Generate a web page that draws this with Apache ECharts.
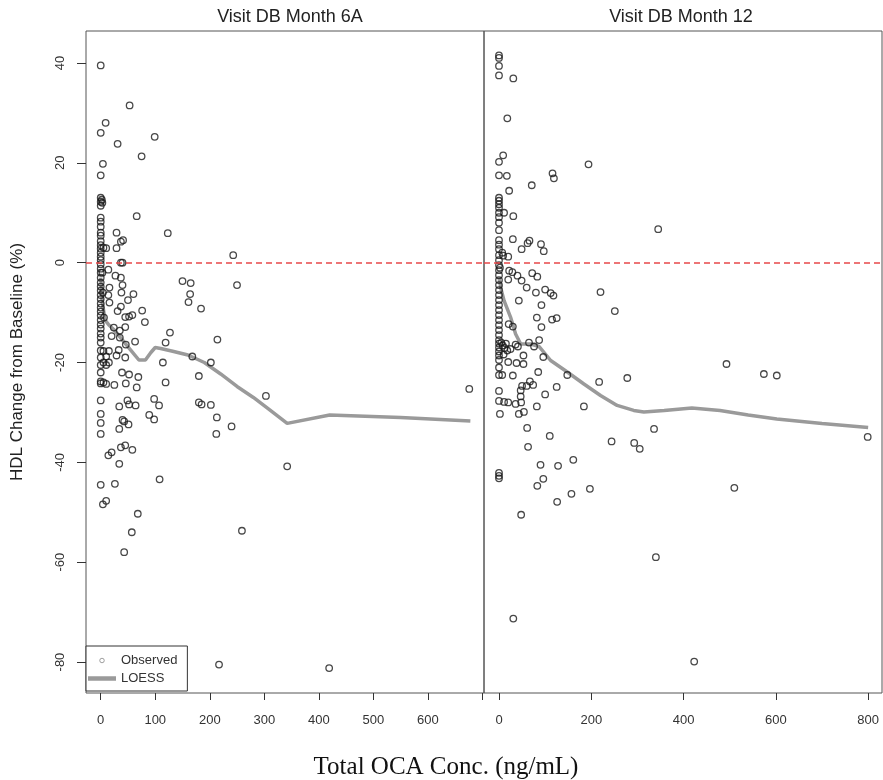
<!DOCTYPE html>
<html>
<head>
<meta charset="utf-8">
<script src="https://cdn.jsdelivr.net/npm/echarts@6/dist/echarts.min.js"></script>
<style>
  html, body { margin: 0; padding: 0; background: #fff; }
  #chart { width: 883px; height: 780px; }
</style>
</head>
<body>
<div id="chart"></div>
<script>
// panel titles
const panelTitles = ['Visit DB Month 6A', 'Visit DB Month 12']

// tick values
const yTicks = [-80, -60, -40, -20, 0, 20, 40]
const m6TickX = [0, 100, 200, 300, 400, 500, 600, 700]
const m6LabelX = [0, 100, 200, 300, 400, 500, 600]
const m12TickX = [0, 200, 400, 600, 800]

// Month 6A observed [conc, change %]
const month6Points = [
  [0, 39.5], [0, 26], [4, 19.8], [0, 17.5], [0, 13], [2, 12.6], [0, 12.2], [3, 12], [0, 11.4],
  [0, 9], [0, 8.2], [0, 7.2], [0, 6], [0, 5.4], [0, 4.3], [0, 3.5], [0, 2.8], [0, 2], [0, 1.2],
  [0, 0.5], [0, -0.3], [0, -1.2], [0, -2], [0, -3], [0, -4], [0, -4.8], [0, -5.6], [0, -6.5],
  [0, -7.3], [0, -8.2], [0, -9], [0, -9.8], [0, -10.6], [0, -11.5], [0, -12.4], [0, -13.2],
  [0, -14.2], [0, -15], [0, -16], [0, -17.6], [0, -19], [0, -20.5], [0, -22], [0, -23.8],
  [0, -24.2], [0, -27.6], [0, -30.3], [0, -32.1], [0, -34.3], [0, -44.5], [4, -48.4],
  [5, 3], [3, -2], [4, -6], [6, -11], [5, -17.7], [5, -20], [5, -24], [10, -47.7],
  [9, 28], [53, 31.5], [31, 23.8], [99, 25.2], [75, 21.3], [66, 9.3], [29, 6], [123, 5.9],
  [41, 4.5], [37, 4.2], [29, 2.9], [10, 2.9], [37, 0], [40, 0], [14, -1.4], [27, -2.6],
  [37, -3], [40, -4.5], [38, -6], [16, -5], [14, -6.5], [16, -8], [60, -6.3], [50, -7.5],
  [37, -8.8], [31, -9.7], [76, -9.6], [81, -11.9], [45, -10.9], [52, -10.8], [58, -10.5],
  [45, -12.9], [35, -13.6], [24, -13], [127, -14], [119, -16], [63, -15.8], [46, -16.4],
  [35, -15], [20, -14.7], [15, -17.7], [33, -17.5], [45, -19], [29, -18.6], [10, -18.8],
  [114, -20], [10, -20.5], [15, -20], [39, -22], [52, -22.4], [69, -22.9], [119, -24],
  [10, -24.3], [25, -24.5], [46, -24.2], [66, -25], [34, -28.8], [49, -27.6], [64, -28.6],
  [52, -28.4], [98, -27.3], [107, -28.6], [89, -30.5], [40, -31.5], [34, -33.3], [43, -31.8],
  [51, -32.4], [98, -31.4], [14, -38.6], [20, -38], [37, -37], [45, -36.6], [58, -37.5],
  [34, -40.3], [108, -43.4], [26, -44.3], [68, -50.3], [57, -54], [43, -58],
  [243, 1.5], [250, -4.5], [150, -3.7], [165, -4.1], [164, -6.3], [161, -7.9], [184, -9.2],
  [214, -15.4], [168, -18.8], [202, -20], [180, -22.7], [303, -26.7], [180, -28], [185, -28.4],
  [202, -28.5], [213, -31], [212, -34.3], [240, -32.8], [342, -40.8], [259, -53.7],
  [217, -80.5], [419, -81.2], [676, -25.3]
]

// Month 6A LOESS fit
const month6Loess = [
  [0, -3], [3, -8], [8, -11.5], [15, -12.5], [25, -13.5], [40, -15.5], [55, -17.5], [70, -19.5],
  [82, -19.5], [92, -18], [100, -17], [110, -17.2], [130, -17.7], [160, -18.5], [190, -20],
  [220, -22.3], [250, -24.8], [280, -27], [310, -29.5], [342, -32.2], [420, -30.5], [550, -31],
  [678, -31.7]
]

// Month 12 observed [conc, change %]
const month12Points = [
  [0, 41.5], [0, 41], [0, 39.4], [0, 37.5], [0, 20.2], [0, 17.5], [0, 13], [0, 12.4], [0, 11.7],
  [0, 11], [0, 10], [0, 9.1], [0, 8], [0, 6.5], [0, 4.5], [0, 3.6], [0, 2.7], [0, 1.5], [0, 0.5],
  [0, -0.5], [2, -1], [0, -1.5], [0, -2.5], [0, -3.5], [0, -4.5], [0, -5.5], [0, -6.5], [0, -7.5],
  [0, -8.5], [0, -9.5], [0, -10.5], [0, -11.5], [0, -12.5], [0, -13.5], [0, -14.5], [0, -15.5],
  [0, -16.2], [0, -17], [0, -17.8], [0, -18.6], [0, -19.5], [0, -21], [0, -22.5], [0, -25.7],
  [0, -27.7], [2, -30.3], [0, -42.1], [0, -42.7], [0, -43.2],
  [31, 36.9], [18, 28.9], [9, 21.5], [17, 17.4], [194, 19.7], [116, 17.9], [119, 16.9],
  [71, 15.5], [22, 14.4], [11, 10], [31, 9.3], [345, 6.7], [30, 4.7], [66, 4.4], [62, 3.9],
  [49, 2.7], [91, 3.7], [97, 2.3], [9, 1.4], [20, 1.2], [7, 2], [22, -1.6], [29, -1.9],
  [40, -2.6], [72, -2.1], [83, -2.8], [20, -3.4], [49, -3.6], [60, -5], [80, -6], [100, -5.4],
  [112, -6.1], [118, -6.6], [220, -5.9], [43, -7.6], [92, -8.5], [251, -9.7], [82, -11],
  [115, -11.4], [125, -11.1], [92, -12.9], [21, -12.3], [30, -12.8], [87, -15.5], [65, -16],
  [76, -16.8], [36, -16.4], [41, -16.8], [5, -16], [8, -16.6], [12, -17.1], [15, -16.2],
  [18, -17.6], [25, -17.3], [10, -18.4], [96, -18.9], [53, -18.6], [38, -20.1], [53, -20.3],
  [20, -19.9], [85, -21.9], [7, -22.5], [30, -22.6], [148, -22.5], [217, -23.9], [278, -23.1],
  [67, -23.8], [74, -24.5], [60, -24.7], [50, -24.7], [125, -24.9], [100, -26.4], [47, -25.6],
  [47, -26.8], [48, -28], [11, -27.9], [20, -28], [36, -28.3], [82, -28.8], [184, -28.8],
  [43, -30.3], [54, -29.9], [61, -33.1], [110, -34.7], [63, -36.9], [244, -35.8], [293, -36.1],
  [305, -37.3], [336, -33.3], [90, -40.5], [128, -40.7], [161, -39.5], [96, -43.3], [83, -44.7],
  [157, -46.3], [197, -45.3], [126, -47.9], [48, -50.5], [340, -59], [31, -71.3], [493, -20.3],
  [574, -22.3], [602, -22.6], [510, -45.1], [423, -79.9], [799, -34.9]
]

// Month 12 LOESS fit
const month12Loess = [
  [0, -3], [5, -5.5], [11, -7.6], [25, -10.9], [36, -14.3], [47, -16.3], [69, -16.3], [87, -16.8],
  [112, -19.6], [148, -21.9], [184, -24.3], [220, -26.6], [256, -28.6], [292, -29.6], [314, -29.9],
  [358, -29.6], [418, -29.1], [479, -29.6], [540, -30.5], [602, -31.3], [700, -32.2], [800, -33]
]

const chart = echarts.init(document.getElementById('chart'))

const axisText = { color: '#333', fontSize: 13, fontFamily: 'Liberation Sans, Arial, sans-serif' }
const tickStyle = { color: '#333', width: 1 }

const zeroLine = {
  silent: true,
  symbol: 'none',
  label: { show: false },
  lineStyle: { color: '#e8484a', type: [6, 4], width: 1.5 },
  data: [{ yAxis: 0 }]
}

const pointStyle = { color: 'transparent', borderColor: '#1a1a1a', borderWidth: 1.3 }
const loessStyle = { color: '#9a9a9a', width: 3.5 }

chart.setOption({
  animation: false,
  title: [
    {
      text: panelTitles[0], left: 285, top: 3, textAlign: 'center',
      textStyle: { color: '#222', fontSize: 18, fontWeight: 'normal', fontFamily: 'Liberation Sans, Arial, sans-serif' }
    },
    {
      text: panelTitles[1], left: 676, top: 3, textAlign: 'center',
      textStyle: { color: '#222', fontSize: 18, fontWeight: 'normal', fontFamily: 'Liberation Sans, Arial, sans-serif' }
    },
    {
      text: 'Total OCA Conc. (ng/mL)', left: 441, top: 750, textAlign: 'center',
      textStyle: { color: '#111', fontSize: 25, fontWeight: 'normal', fontFamily: 'Liberation Serif, Times New Roman, serif' }
    }
  ],
  legend: {
    orient: 'vertical',
    left: 86,
    top: 646,
    padding: [8, 10, 6, 2],
    itemGap: 5,
    itemWidth: 28,
    itemHeight: 4.5,
    backgroundColor: '#fff',
    borderColor: '#333',
    borderWidth: 1,
    textStyle: { color: '#333', fontSize: 13, fontFamily: 'Liberation Sans, Arial, sans-serif' },
    data: [
      { name: 'Observed', icon: 'circle', itemStyle: { color: 'transparent', borderColor: '#888', borderWidth: 1 } },
      { name: 'LOESS', icon: 'rect', itemStyle: { color: '#9a9a9a' } }
    ]
  },
  grid: [
    { left: 86, top: 31, width: 398, height: 662, show: true, borderColor: '#555', borderWidth: 1, backgroundColor: 'transparent' },
    { left: 484, top: 31, width: 398, height: 662, show: true, borderColor: '#555', borderWidth: 1, backgroundColor: 'transparent' }
  ],
  xAxis: [
    {
      gridIndex: 0, type: 'value', min: -27, max: 703,
      axisLine: { show: false, onZero: false },
      splitLine: { show: false },
      axisTick: { show: true, length: 7, lineStyle: tickStyle, customValues: m6TickX },
      axisLabel: { ...axisText, margin: 21, customValues: m6LabelX }
    },
    {
      gridIndex: 1, type: 'value', min: -32.5, max: 830,
      axisLine: { show: false, onZero: false },
      splitLine: { show: false },
      axisTick: { show: true, length: 7, lineStyle: tickStyle, customValues: m12TickX },
      axisLabel: { ...axisText, margin: 21, customValues: m12TickX }
    }
  ],
  yAxis: [
    {
      gridIndex: 0, type: 'value', min: -86.2, max: 46.4,
      name: 'HDL Change from Baseline (%)',
      nameLocation: 'middle',
      nameGap: 60,
      nameTextStyle: { color: '#222', fontSize: 17, fontFamily: 'Liberation Sans, Arial, sans-serif' },
      axisLine: { show: false, onZero: false },
      splitLine: { show: false },
      axisTick: { show: true, length: 9, lineStyle: tickStyle, customValues: yTicks },
      axisLabel: { ...axisText, rotate: 90, margin: 19, customValues: yTicks }
    },
    {
      gridIndex: 1, type: 'value', min: -86.2, max: 46.4,
      axisLine: { show: false, onZero: false },
      splitLine: { show: false },
      axisTick: { show: false },
      axisLabel: { show: false }
    }
  ],
  series: [
    {
      name: 'Observed', type: 'scatter', xAxisIndex: 0, yAxisIndex: 0,
      symbol: 'circle', symbolSize: 6.5, itemStyle: pointStyle,
      data: month6Points, markLine: zeroLine, z: 3
    },
    {
      name: 'LOESS', type: 'line', xAxisIndex: 0, yAxisIndex: 0,
      symbol: 'none', lineStyle: loessStyle, itemStyle: { color: '#9a9a9a' },
      data: month6Loess, z: 2
    },
    {
      name: 'Observed', type: 'scatter', xAxisIndex: 1, yAxisIndex: 1,
      symbol: 'circle', symbolSize: 6.5, itemStyle: pointStyle,
      data: month12Points, markLine: zeroLine, z: 3
    },
    {
      name: 'LOESS', type: 'line', xAxisIndex: 1, yAxisIndex: 1,
      symbol: 'none', lineStyle: loessStyle, itemStyle: { color: '#9a9a9a' },
      data: month12Loess, z: 2
    }
  ]
})
</script>
</body>
</html>
